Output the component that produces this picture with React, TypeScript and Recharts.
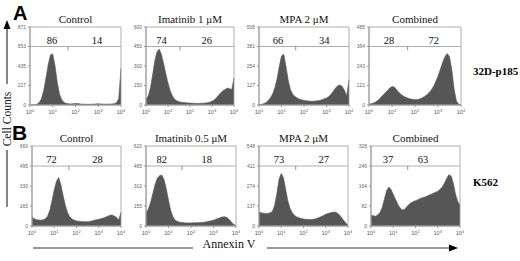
import { Area, AreaChart, ReferenceArea, ReferenceDot, ReferenceLine, XAxis, YAxis } from "recharts";

// log10 fluorescence channel (decades), shared by all panels
const LOG_X = [
  0, 0.1, 0.2, 0.3, 0.4, 0.5, 0.6, 0.7, 0.8, 0.9, 1, 1.1, 1.2, 1.3, 1.4, 1.5, 1.6, 1.7, 1.8, 1.9, 2,
  2.1, 2.2, 2.3, 2.4, 2.5, 2.6, 2.7, 2.8, 2.9, 3, 3.1, 3.2, 3.3, 3.4, 3.5, 3.6, 3.7, 3.8, 3.9, 4,
];
const DECADES = [0, 1, 2, 3, 4];

// row A: 32D-p185
const A_CONTROL = [0, 0, 2, 8, 25, 70, 160, 300, 450, 560, 570, 440, 250, 120, 55, 28, 18, 14, 12, 15, 18, 16, 12, 10, 8, 8, 7, 9, 10, 12, 14, 12, 10, 9, 10, 10, 12, 15, 25, 70, 410];
const A_IMATINIB = [40, 70, 130, 230, 340, 410, 430, 390, 320, 240, 170, 110, 70, 45, 32, 25, 22, 20, 18, 16, 15, 14, 13, 12, 12, 13, 14, 15, 18, 22, 28, 38, 55, 75, 95, 110, 120, 130, 125, 120, 210];
const A_MPA = [2, 4, 8, 15, 28, 45, 70, 110, 170, 250, 320, 330, 250, 160, 100, 70, 55, 45, 38, 34, 30, 28, 26, 24, 25, 26, 27, 30, 35, 40, 45, 55, 70, 90, 110, 125, 130, 120, 95, 60, 165];
const A_COMBINED = [5, 8, 12, 20, 30, 45, 60, 75, 90, 105, 115, 112, 95, 78, 65, 55, 48, 42, 38, 35, 33, 34, 38, 44, 52, 62, 75, 92, 115, 145, 180, 220, 265, 300, 320, 300, 220, 100, 25, 5, 0];

// row B: K562
const B_CONTROL = [75, 60, 52, 50, 48, 52, 60, 80, 130, 210, 300, 370, 400, 340, 250, 170, 110, 75, 58, 48, 42, 40, 38, 36, 35, 36, 38, 42, 48, 52, 55, 60, 65, 72, 80, 88, 90, 82, 70, 50, 115];
const B_IMATINIB = [100, 130, 180, 250, 320, 370, 390, 395, 360, 290, 200, 120, 70, 45, 35, 30, 27, 25, 24, 23, 24, 25, 25, 26, 27, 28, 30, 33, 36, 40, 45, 52, 58, 65, 70, 72, 65, 50, 30, 12, 5];
const B_MPA = [95, 90, 88, 85, 86, 90, 100, 140, 220, 320, 360, 330, 250, 170, 120, 90, 72, 62, 56, 52, 48, 46, 45, 44, 45, 48, 52, 58, 65, 72, 80, 86, 90, 94, 96, 90, 78, 60, 40, 20, 5];
const B_COMBINED = [45, 42, 40, 45, 55, 75, 110, 145, 160, 150, 130, 110, 90, 75, 66, 68, 78, 88, 95, 100, 104, 108, 112, 116, 118, 122, 126, 130, 134, 138, 142, 150, 160, 175, 195, 210, 205, 175, 130, 100, 85];

const A_TITLES = ["Control", "Imatinib 1 μM", "MPA 2 μM", "Combined"];
const B_TITLES = ["Control", "Imatinib 0.5 μM", "MPA 2 μM", "Combined"];
const A_MAX = [871, 600, 508, 485];
const B_MAX = [660, 620, 548, 328];
const A_YLABELS = [
  ["0", "217", "435", "653", "871"],
  ["0", "150", "300", "450", "600"],
  ["0", "127", "254", "381", "508"],
  ["0", "121", "243", "364", "485"],
];
const B_YLABELS = [
  ["0", "165", "330", "495", "660"],
  ["0", "155", "310", "465", "620"],
  ["0", "137", "274", "411", "548"],
  ["0", "82", "164", "246", "328"],
];
// gate percentages (left, right of marker)
const A_PCT = [[86, 14], [74, 26], [66, 34], [28, 72]];
const B_PCT = [[72, 28], [82, 18], [73, 27], [37, 63]];
const A_MARKER = [1.67, 1.55, 1.63, 1.68];
const B_MARKER = [1.66, 1.6, 1.65, 1.65];
const A_PCT_X = [[0.97, 2.95], [0.71, 2.76], [0.84, 2.9], [0.87, 2.81]];
const B_PCT_X = [[0.88, 2.94], [0.7, 2.7], [0.9, 2.91], [0.76, 2.34]];

const SERIF = "Liberation Serif, Times New Roman, serif";
const SANS = "Liberation Sans, Arial, sans-serif";
const FILL = "#565656";
const FRAME = "#9a9a9a";

// plot boxes: left, top, width, height
const A_BOX = [[30, 27, 91, 78], [146, 27, 88, 78], [259, 27, 90, 78], [369, 27, 92, 78]];
const B_BOX = [[32, 146, 89, 80], [146, 146, 90, 80], [259, 146, 89, 80], [371, 146, 89, 80]];

const YW = 16;
const MT = 3;
const MR = 4;
const XH = 10;

function PowTick({ x, y, payload }: any) {
  return (
    <text x={x} y={y + 5} textAnchor="middle" fontSize={5.5} fill="#555" fontFamily={SANS}>
      10
      <tspan dy={-2.5} fontSize={4}>
        {payload.value}
      </tspan>
    </text>
  );
}

type PanelProps = {
  values: number[];
  max: number;
  yLabels: string[];
  pct: number[];
  pctX: number[];
  marker: number;
  box: number[];
};

function Panel({ values, max, yLabels, pct, pctX, marker, box }: PanelProps) {
  const [left, top, w, h] = box;
  const data = LOG_X.map((x, i) => ({ x, v: values[i] }));
  const gate = max * 0.75;
  return (
    <div style={{ position: "absolute", left: left - YW, top: top - MT }}>
      <AreaChart
        width={w + YW + MR}
        height={h + MT + XH}
        data={data}
        margin={{ top: MT, right: MR, bottom: 0, left: 0 }}
      >
        <XAxis
          dataKey="x"
          type="number"
          domain={[0, 4]}
          ticks={DECADES}
          height={XH}
          tickSize={2}
          tick={<PowTick />}
          stroke={FRAME}
          interval={0}
        />
        <YAxis
          type="number"
          domain={[0, max]}
          ticks={[0, max / 4, max / 2, (max * 3) / 4, max]}
          tickFormatter={(_v: number, i: number) => yLabels[i]}
          width={YW}
          tickSize={2}
          tick={{ fontSize: 5, fill: "#666", fontFamily: SANS }}
          stroke={FRAME}
          interval={0}
        />
        <Area
          dataKey="v"
          type="linear"
          fill={FILL}
          fillOpacity={1}
          stroke={FILL}
          strokeWidth={0.6}
          dot={false}
          activeDot={false}
          isAnimationActive={false}
        />
        <ReferenceArea x1={0} x2={4} y1={0} y2={max} fill="none" stroke={FRAME} strokeWidth={0.8} />
        <ReferenceLine y={gate} stroke={FRAME} strokeWidth={0.8} />
        <ReferenceLine
          segment={[
            { x: marker, y: gate },
            { x: marker, y: max * 0.7 },
          ]}
          stroke="#777"
          strokeWidth={0.8}
        />
        {pct.map((p, i) => (
          <ReferenceDot
            key={i}
            x={pctX[i]}
            y={max * 0.83}
            r={0}
            fill="none"
            stroke="none"
            label={{ value: String(p), position: "center", fontSize: 10.5, fontFamily: SERIF, fill: "#111" }}
          />
        ))}
      </AreaChart>
    </div>
  );
}

const A_SERIES = [A_CONTROL, A_IMATINIB, A_MPA, A_COMBINED];
const B_SERIES = [B_CONTROL, B_IMATINIB, B_MPA, B_COMBINED];

export default function App() {
  return (
    <div style={{ position: "absolute", left: 0, top: 0, width: 520, height: 261, background: "#fff", overflow: "hidden" }}>
      {A_SERIES.map((s, i) => (
        <Panel key={"a" + i} values={s} max={A_MAX[i]} yLabels={A_YLABELS[i]} pct={A_PCT[i]} pctX={A_PCT_X[i]} marker={A_MARKER[i]} box={A_BOX[i]} />
      ))}
      {B_SERIES.map((s, i) => (
        <Panel key={"b" + i} values={s} max={B_MAX[i]} yLabels={B_YLABELS[i]} pct={B_PCT[i]} pctX={B_PCT_X[i]} marker={B_MARKER[i]} box={B_BOX[i]} />
      ))}
      <svg width={520} height={261} style={{ position: "absolute", left: 0, top: 0, pointerEvents: "none" }}>
        <text x={13} y={20} fontSize={20} fontWeight="bold" fontFamily={SANS} fill="#000">A</text>
        <text x={12} y={140} fontSize={21} fontWeight="bold" fontFamily={SANS} fill="#000">B</text>
        {A_TITLES.map((t, i) => (
          <text key={"ta" + i} x={A_BOX[i][0] + A_BOX[i][2] / 2} y={23} textAnchor="middle" fontSize={11} fontFamily={SERIF} fill="#111">{t}</text>
        ))}
        {B_TITLES.map((t, i) => (
          <text key={"tb" + i} x={B_BOX[i][0] + B_BOX[i][2] / 2} y={142} textAnchor="middle" fontSize={11} fontFamily={SERIF} fill="#111">{t}</text>
        ))}
        <text x={473} y={75} fontSize={11} fontWeight="bold" fontFamily={SERIF} fill="#000">32D-p185</text>
        <text x={473} y={186} fontSize={11} fontWeight="bold" fontFamily={SERIF} fill="#000">K562</text>
        {/* y arrow */}
        <line x1={7} y1={28} x2={7} y2={84} stroke="#333" strokeWidth={1.2} />
        <polygon points="7,20 3.5,29 10.5,29" fill="#000" />
        <text x={0} y={0} transform="translate(10.5,119) rotate(-90)" textAnchor="middle" fontSize={11.5} fontFamily={SERIF} fill="#111">Cell Counts</text>
        <line x1={7} y1={150} x2={7} y2={207} stroke="#333" strokeWidth={1.2} />
        {/* x arrow */}
        <line x1={33} y1={248} x2={193} y2={248} stroke="#333" strokeWidth={1.2} />
        <line x1={267} y1={248} x2={450} y2={248} stroke="#333" strokeWidth={1.2} />
        <polygon points="458,248 449,244.5 449,251.5" fill="#000" />
        <text x={229} y={248} textAnchor="middle" fontSize={12} fontFamily={SERIF} fill="#111">Annexin V</text>
      </svg>
    </div>
  );
}
